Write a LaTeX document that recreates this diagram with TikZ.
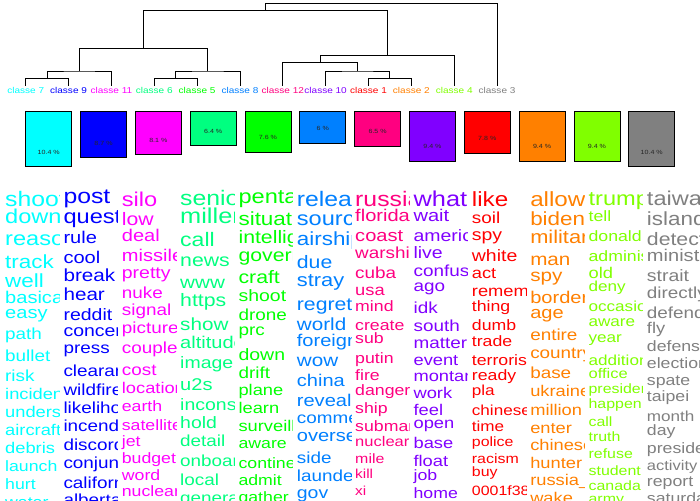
\documentclass[tikz,border=0pt]{standalone}
\usepackage{fontspec}
\setmainfont{Liberation Sans}[FakeStretch=1.18]
\definecolor{c1}{RGB}{255,0,0}
\definecolor{c2}{RGB}{255,128,0}
\definecolor{c3}{RGB}{128,128,128}
\definecolor{c4}{RGB}{128,255,0}
\definecolor{c5}{RGB}{0,255,0}
\definecolor{c6}{RGB}{0,255,128}
\definecolor{c7}{RGB}{0,255,255}
\definecolor{c8}{RGB}{0,128,255}
\definecolor{c9}{RGB}{0,0,255}
\definecolor{c10}{RGB}{128,0,255}
\definecolor{c11}{RGB}{255,0,255}
\definecolor{c12}{RGB}{255,0,128}
\tikzset{
  dend/.style={line width=0.9pt},
  clab/.style={anchor=base, inner sep=0pt, font=\fontsize{8.5}{8.5}\selectfont},
  pctbox/.style={draw=black, line width=0.8pt, minimum width=46pt, inner sep=0pt, anchor=north west},
  pct/.style={inner sep=0pt, font=\fontsize{6}{6}\selectfont, text=black!85},
  word/.style={anchor=base west, inner sep=0pt},
}
\begin{document}
\begin{tikzpicture}[x=1pt,y=-1pt]
    \useasboundingbox[fill=white] (0,0) rectangle (700,500);

    % Dendrogram leaves
    \foreach \k [count=\i from 0] in {7,9,11,6,5,8,12,10,1,2,4,3} {
        \coordinate (k\k) at ({25.7+42.85*\i},86);
        \node[clab, text=c\k] (lab\k) at ([yshift=-7.3pt]k\k) {classe \k};
    }
    % Merge points
    \coordinate (m79) at (47.1,78.3);
    \coordinate (m711) at (79.3,71);
    \coordinate (m65) at (175.7,78.3);
    \coordinate (m658) at (207.8,71);
    \coordinate (mleft) at (143.6,48.3);
    \coordinate (m12) at (389.9,78.3);
    \coordinate (m10) at (357.8,71);
    \coordinate (m1012) at (320.3,62.7);
    \coordinate (m4) at (387.2,55.7);
    \coordinate (mtop) at (265.4,10.3);
    \coordinate (root) at (381,3.3);
    % Draw the tree
    \draw[dend] (k7) |- (m79) -| (k9);
    \draw[dend] (m79) |- (m711) -| (k11);
    \draw[dend] (k6) |- (m65) -| (k5);
    \draw[dend] (m65) |- (m658) -| (k8);
    \draw[dend] (m711) |- (mleft) -| (m658);
    \draw[dend] (k1) |- (m12) -| (k2);
    \draw[dend] (k10) |- (m10) -| (m12);
    \draw[dend] (k12) |- (m1012) -| (m10);
    \draw[dend] (m1012) |- (m4) -| (k4);
    \draw[dend] (mleft) |- (mtop) -| (m4);
    \draw[dend] (mtop) |- (root) -| (k3);

    % Class sizes
    \foreach \k/\p [count=\i from 0] in {7/10.4,9/8.7,11/8.1,6/6.4,5/7.6,8/6,12/6.5,10/9.4,1/7.8,2/9.4,4/9.4,3/10.4} {
        \pgfmathsetmacro\bx{25.3+54.82*\i}
        \pgfmathsetmacro\bh{5.3*\p}
        \node[pctbox, fill=c\k, minimum height=\bh pt] (b\k) at (\bx,111.3) {};
        \node[pct] (p\k) at ([yshift=15pt]b\k.south) {\p\ \%};
    }

    % Word columns
    \begin{scope}
        \clip (5,180) rectangle (59.5,500);
        \foreach \w/\s/\y [count=\i] in {shoot/21/206, down/20/223.3, reason/20/245, track/19/268, well/19/287, basically/17/303, easy/17/318, path/16/339, bullet/16/361, risk/16/381, incident/15.5/399, understand/15.5/417, aircraft/15.5/435, debris/15.5/453, launch/15/471, hurt/15/489, water/15/507}
            \node[word, text=c7, font=\fontsize{\s}{\s}\selectfont] (w7-\i) at (5,\y) {\w};
    \end{scope}
    \begin{scope}
        \clip (63.34,180) rectangle (117.84,500);
        \foreach \w/\s/\y [count=\i] in {post/21/203, question/20/223, rule/17/243, cool/17/263, break/17.5/281.7, hear/17.5/300, reddit/16.5/320, concern/16.5/336.7, press/16/353, clearance/16/376.7, wildfire/16/395, likelihood/16/413.3, incendiary/16/431.7, discord/16/450, conjunction/16/468.3, california/16/488, alberta/16/505}
            \node[word, text=c9, font=\fontsize{\s}{\s}\selectfont] (w9-\i) at (63.34,\y) {\w};
    \end{scope}
    \begin{scope}
        \clip (121.68,180) rectangle (176.18,500);
        \foreach \w/\s/\y [count=\i] in {silo/20/206, low/18/225, deal/17/241.7, missile/17/261.7, pretty/16.5/278, nuke/16/298.3, signal/16/315, picture/16/333, couple/16/353, cost/16/375, location/15.5/393, earth/15/411.7, satellite/15/430, jet/15/446.7, budget/15/463.3, word/15/480, nuclear/15/496.7}
            \node[word, text=c11, font=\fontsize{\s}{\s}\selectfont] (w11-\i) at (121.68,\y) {\w};
    \end{scope}
    \begin{scope}
        \clip (180.02,180) rectangle (234.52,500);
        \foreach \w/\s/\y [count=\i] in {senior/21/205, millennial/21.5/223.3, call/19.5/246.7, news/18/266.7, www/17.5/288.3, https/18/306.7, show/17.5/330, altitude/17/348.3, image/16.5/368.3, u2s/17/390, inconsistent/16.5/410, hold/16.5/428.3, detail/16/446.7, onboard/16/466.7, local/16/485, general/16/503}
            \node[word, text=c6, font=\fontsize{\s}{\s}\selectfont] (w6-\i) at (180.02,\y) {\w};
    \end{scope}
    \begin{scope}
        \clip (238.36,180) rectangle (292.86,500);
        \foreach \w/\s/\y [count=\i] in {pentagon/20/203.3, situation/19/225, intelligence/18/243.3, government/18/261.7, craft/18/283.3, shoot/16.5/301.7, drone/16/320, prc/16/335, down/16.5/360, drift/16/378.3, plane/15.5/395, learn/15.5/413.3, surveillance/15.5/431.7, aware/15/448.3, continent/15/468.3, admit/15/485, gather/15/502}
            \node[word, text=c5, font=\fontsize{\s}{\s}\selectfont] (w5-\i) at (238.36,\y) {\w};
    \end{scope}
    \begin{scope}
        \clip (296.7,180) rectangle (351.2,500);
        \foreach \w/\s/\y [count=\i] in {release/21/206.7, source/20/225, airship/19/245, due/18/268.3, stray/18.5/286.7, regret/18/310, world/17.5/330, foreign/17/346.7, wow/17.5/366.7, china/17/386.7, reveal/17/406.7, comment/16/423.3, overseas/17/441.7, side/16/463.3, launder/16/481.7, gov/16.5/498}
            \node[word, text=c8, font=\fontsize{\s}{\s}\selectfont] (w8-\i) at (296.7,\y) {\w};
    \end{scope}
    \begin{scope}
        \clip (355.04,180) rectangle (409.54,500);
        \foreach \w/\s/\y [count=\i] in {russia/21/206, florida/17/221.7, coast/17/241.7, warship/16/258.3, cuba/16/278.3, usa/15.5/295, mind/15/311.7, create/15/330, sub/15/343, putin/15/363.3, fire/15/380, danger/15/395, ship/15/413.3, submarine/15/431.7, nuclear/14/446.7, mile/13.5/463.3, kill/13/478.3, xi/13/495}
            \node[word, text=c12, font=\fontsize{\s}{\s}\selectfont] (w12-\i) at (355.04,\y) {\w};
    \end{scope}
    \begin{scope}
        \clip (413.38,180) rectangle (467.88,500);
        \foreach \w/\s/\y [count=\i] in {what/21.5/206, wait/17/221.7, america/16.5/241.7, live/16.5/258.3, confused/16/276.7, ago/16/291.7, idk/16/313.3, south/16/331.7, matter/16/348, event/15.5/365, montana/15.5/381.7, work/15.5/398.3, feel/15.5/415, open/15.5/428.3, base/15.5/448.3, float/15.5/466.7, job/15/480, home/15/498.3}
            \node[word, text=c10, font=\fontsize{\s}{\s}\selectfont] (w10-\i) at (413.38,\y) {\w};
    \end{scope}
    \begin{scope}
        \clip (471.72,180) rectangle (526.22,500);
        \foreach \w/\s/\y [count=\i] in {like/20.5/206, soil/16/223.3, spy/16.5/240, white/16.5/261.7, act/15.5/278.3, remember/15.5/296.7, thing/15/311.7, dumb/15/330, trade/15/346.7, terrorism/15/365, ready/15/380, pla/14.5/395, chinese/14.5/415, time/14.5/431.7, police/13.5/446.7, racism/13.5/463.3, buy/13.5/476.7, 0001f38/13.5/495}
            \node[word, text=c1, font=\fontsize{\s}{\s}\selectfont] (w1-\i) at (471.72,\y) {\w};
    \end{scope}
    \begin{scope}
        \clip (530.06,180) rectangle (584.56,500);
        \foreach \w/\s/\y [count=\i] in {allow/20.5/206, biden/19/225, military/18.5/243.3, man/17.5/265, spy/17.5/281.7, border/17/303.3, age/17/318.3, entire/16/340, country/16/358.3, base/16/378.3, ukraine/15.5/396.7, million/15.5/415, enter/15.5/433.3, chinese/15.5/450, hunter/15.5/468.3, russia\_/15.5/485, wake/15.5/503}
            \node[word, text=c2, font=\fontsize{\s}{\s}\selectfont] (w2-\i) at (530.06,\y) {\w};
    \end{scope}
    \begin{scope}
        \clip (588.4,180) rectangle (642.9,500);
        \foreach \w/\s/\y [count=\i] in {trump/20/205, tell/15/221.7, donald/15/241.7, administration/15/261.7, old/15.5/278.3, deny/14.5/291.7, occasion/14.5/311.7, aware/14.5/326.7, year/14.5/342, addition/14.5/365, office/14/378.3, president/13.5/393.3, happen/13.5/408.3, call/13.5/426.7, truth/13.5/441.7, refuse/13.5/458.3, student/13.5/475, canada/13.5/490, army/13.5/503}
            \node[word, text=c4, font=\fontsize{\s}{\s}\selectfont] (w4-\i) at (588.4,\y) {\w};
    \end{scope}
    \begin{scope}
        \clip (646.74,180) rectangle (700,500);
        \foreach \w/\s/\y [count=\i] in {taiwan/20/205, island/19/225, detect/18/245, minister/17/261.7, strait/16.5/281.7, directly/16/298.3, defend/16/318.3, fly/15.5/333.3, defense/15/351.7, election/15/368.3, spate/15/385, taipei/15/401.7, month/14.5/421.7, day/15/435, president/15/453.3, activity/14/470, report/15/486.7, saturday/15/503}
            \node[word, text=c3, font=\fontsize{\s}{\s}\selectfont] (w3-\i) at (646.74,\y) {\w};
    \end{scope}
\end{tikzpicture}
\end{document}
